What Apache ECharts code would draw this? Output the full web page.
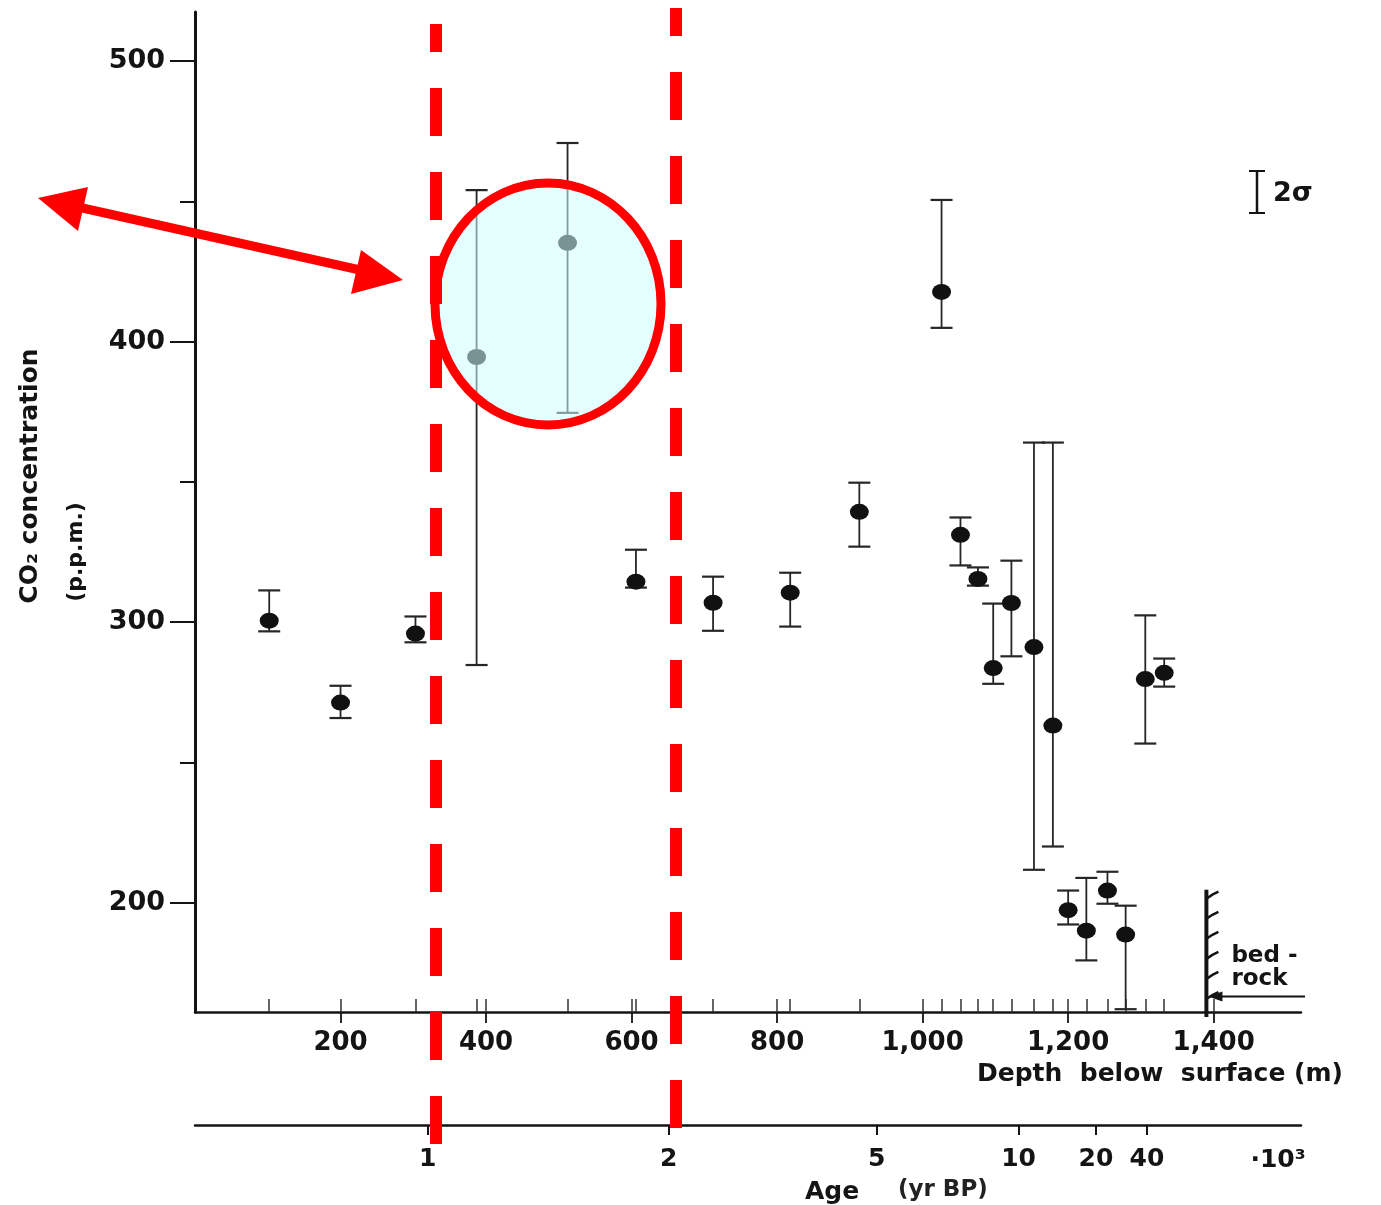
<!DOCTYPE html>
<html><head><meta charset="utf-8">
<script src="https://cdn.jsdelivr.net/npm/echarts@6/dist/echarts.min.js"></script>
<style>html,body{margin:0;padding:0;background:#fff}#c{width:1381px;height:1205px}</style>
</head><body><div id="c"></div>
<script>
// ---- data ----
const depths  = [102, 200, 303, 387, 512, 606, 712, 818, 913, 1026, 1052, 1076, 1097, 1122, 1153, 1179, 1200, 1225, 1254, 1279, 1306, 1332];
const co2     = [300.5, 271.3, 295.9, 394.5, 435.2, 314.4, 306.9, 310.5, 339.3, 417.7, 331.1, 315.4, 283.6, 306.8, 291.1, 263.1, 197.3, 190.0, 204.3, 188.6, 279.7, 281.9];
const co2Low  = [296.7, 265.8, 292.8, 284.7, 374.6, 312.3, 296.9, 298.4, 326.9, 404.9, 320.2, 313.0, 278.0, 287.8, 211.7, 220.0, 192.2, 179.4, 199.6, 162.0, 256.7, 277.0];
const co2High = [311.3, 277.3, 302.0, 454.0, 470.8, 325.8, 316.2, 317.6, 349.7, 450.5, 337.3, 319.5, 306.6, 321.9, 364.0, 364.0, 204.3, 208.8, 211.0, 198.9, 302.4, 287.0];
const depthTicks = [200, 400, 600, 800, 1000, 1200, 1400];
const yMajorTicks = [200, 300, 400, 500];
const yMinorTicks = [250, 350, 450];
const ageTickDepths = [319.7, 651.1, 936.8, 1131.9, 1238.2, 1308.2];
const ageTickLabels = ['1', '2', '5', '10', '20', '40'];
const bedrockDepth = 1390;
const bedrockTop = 204.6;
const bedrockArrowCO2 = 166.5;

const F = "'DejaVu Sans', sans-serif";
const INK = '#141414';
const X_MIN = 0, X_MAX = 1520, Y_MIN = 161, Y_MAX = 517.5;

const chart = echarts.init(document.getElementById('c'), null, {renderer: 'canvas'});

function fmtDepth(v) {
  return v >= 1000 ? Math.floor(v / 1000) + ',' + String(v % 1000).padStart(3, '0') : String(v);
}
function fmtAge(v) {
  let best = 0, bd = Infinity;
  ageTickDepths.forEach((d, i) => { const dd = Math.abs(d - v); if (dd < bd) { bd = dd; best = i; } });
  return ageTickLabels[best];
}

const option = {
  animation: false,
  backgroundColor: '#ffffff',
  grid: [
    {left: 195, top: 12, width: 1106, height: 1000},
    {left: 195, top: 1124, width: 1106, height: 1}
  ],
  xAxis: [
    {gridIndex: 0, type: 'value', min: X_MIN, max: X_MAX, position: 'bottom',
     axisLine: {show: true, lineStyle: {color: INK, width: 2.5}},
     axisTick: {show: true, inside: true, length: 13, customValues: depths.concat(depthTicks), lineStyle: {color: '#333', width: 1.5}},
     axisLabel: {show: false}, splitLine: {show: false}},
    {gridIndex: 0, type: 'value', min: X_MIN, max: X_MAX, position: 'bottom',
     axisLine: {show: false},
     axisTick: {show: true, length: 11, customValues: depthTicks, lineStyle: {color: INK, width: 1.8}},
     axisLabel: {show: true, customValues: depthTicks, formatter: fmtDepth, fontFamily: F, fontWeight: 'bold', fontSize: 26, color: INK, margin: 18},
     splitLine: {show: false}},
    {gridIndex: 1, type: 'value', min: X_MIN, max: X_MAX, position: 'bottom',
     axisLine: {show: true, lineStyle: {color: INK, width: 2.5}},
     axisTick: {show: true, length: 10, customValues: ageTickDepths, lineStyle: {color: INK, width: 2}},
     axisLabel: {show: true, customValues: ageTickDepths, formatter: fmtAge, fontFamily: F, fontWeight: 'bold', fontSize: 25, color: INK, margin: 22},
     splitLine: {show: false}}
  ],
  yAxis: [
    {gridIndex: 0, type: 'value', min: Y_MIN, max: Y_MAX, position: 'left',
     axisLine: {show: true, lineStyle: {color: INK, width: 3}},
     axisTick: {show: true, length: 25, customValues: yMajorTicks, lineStyle: {color: INK, width: 2}},
     axisLabel: {show: true, customValues: yMajorTicks, fontFamily: F, fontWeight: 'bold', fontSize: 27, color: INK, margin: 30},
     splitLine: {show: false}},
    {gridIndex: 0, type: 'value', min: Y_MIN, max: Y_MAX, position: 'left',
     axisLine: {show: false},
     axisTick: {show: true, length: 15, customValues: yMinorTicks, lineStyle: {color: INK, width: 2}},
     axisLabel: {show: false}, splitLine: {show: false}},
    {gridIndex: 1, type: 'value', min: 0, max: 1, show: false}
  ],
  series: [
    {
      type: 'custom', name: 'error', xAxisIndex: 0, yAxisIndex: 0, z: 2,
      data: depths.map((d, i) => [d, co2Low[i], co2High[i]]),
      renderItem: function (params, api) {
        const lo = api.coord([api.value(0), api.value(1)]);
        const hi = api.coord([api.value(0), api.value(2)]);
        const hw = 11;
        return {type: 'group', children: [
          {type: 'line', shape: {x1: lo[0], y1: lo[1], x2: hi[0], y2: hi[1]}, style: {stroke: '#262626', lineWidth: 1.8}},
          {type: 'line', shape: {x1: hi[0] - hw, y1: hi[1], x2: hi[0] + hw, y2: hi[1]}, style: {stroke: '#262626', lineWidth: 2.2}},
          {type: 'line', shape: {x1: lo[0] - hw, y1: lo[1], x2: lo[0] + hw, y2: lo[1]}, style: {stroke: '#262626', lineWidth: 2.2}}
        ]};
      }
    },
    {
      type: 'scatter', name: 'CO2', xAxisIndex: 0, yAxisIndex: 0, z: 3,
      symbol: 'circle', symbolSize: [19, 16],
      itemStyle: {color: '#111111', opacity: 1},
      data: depths.map((d, i) => [d, co2[i]])
    },
    {
      type: 'custom', name: 'bedrock', xAxisIndex: 0, yAxisIndex: 0, z: 2, clip: false,
      data: [[bedrockDepth, bedrockTop, bedrockArrowCO2]],
      renderItem: function (params, api) {
        const top = api.coord([api.value(0), api.value(1)]);
        const bot = api.coord([api.value(0), Y_MIN]);
        const arr = api.coord([api.value(0), api.value(2)]);
        const arrEnd = api.coord([X_MAX, api.value(2)]);
        const ch = [
          {type: 'line', shape: {x1: top[0], y1: top[1], x2: bot[0], y2: bot[1] + 5}, style: {stroke: INK, lineWidth: 4}}
        ];
        const n = 6;
        for (let k = 0; k < n; k++) {
          const y = top[1] + 6 + k * (bot[1] - top[1] - 22) / (n - 1);
          ch.push({type: 'polyline', shape: {points: [[top[0], y + 3], [top[0] + 6, y - 1], [top[0] + 12, y - 4]]}, style: {stroke: INK, lineWidth: 2.5, fill: null}});
        }
        ch.push({type: 'line', shape: {x1: arr[0] + 4, y1: arr[1], x2: arrEnd[0] + 4, y2: arr[1]}, style: {stroke: INK, lineWidth: 2}});
        ch.push({type: 'polygon', shape: {points: [[arr[0] + 2, arr[1]], [arr[0] + 16, arr[1] - 5], [arr[0] + 16, arr[1] + 5]]}, style: {fill: INK}});
        ch.push({type: 'text', x: top[0] + 25, y: top[1] + 66, style: {text: 'bed -', font: "bold 23px 'DejaVu Sans', sans-serif", fill: INK, textAlign: 'left', textVerticalAlign: 'middle'}});
        ch.push({type: 'text', x: top[0] + 25, y: top[1] + 89, style: {text: 'rock', font: "bold 23px 'DejaVu Sans', sans-serif", fill: INK, textAlign: 'left', textVerticalAlign: 'middle'}});
        return {type: 'group', children: ch};
      }
    }
  ],
  graphic: [
    // axis titles
    {type: 'text', x: 30, y: 476, rotation: Math.PI / 2, z: 10,
     style: {text: 'CO₂ concentration', font: "bold 25px 'DejaVu Sans', sans-serif", fill: INK, textAlign: 'center', textVerticalAlign: 'middle'}},
    {type: 'text', x: 76, y: 552, rotation: Math.PI / 2, z: 10,
     style: {text: '(p.p.m.)', font: "bold 22px 'DejaVu Sans', sans-serif", fill: INK, textAlign: 'center', textVerticalAlign: 'middle'}},
    {type: 'text', x: 1160, y: 1074, z: 10,
     style: {text: 'Depth  below  surface (m)', font: "bold 25px 'DejaVu Sans', sans-serif", fill: INK, textAlign: 'center', textVerticalAlign: 'middle'}},
    {type: 'text', x: 805, y: 1192, z: 10,
     style: {text: 'Age', font: "bold 25px 'DejaVu Sans', sans-serif", fill: INK, textAlign: 'left', textVerticalAlign: 'middle'}},
    {type: 'text', x: 898, y: 1190, z: 10,
     style: {text: '(yr BP)', font: "bold 23px 'DejaVu Sans', sans-serif", fill: '#222', textAlign: 'left', textVerticalAlign: 'middle'}},
    {type: 'text', x: 1278, y: 1160, z: 10,
     style: {text: '·10³', font: "bold 25px 'DejaVu Sans', sans-serif", fill: INK, textAlign: 'center', textVerticalAlign: 'middle'}},
    // 2 sigma key
    {type: 'line', z: 10, shape: {x1: 1257, y1: 171, x2: 1257, y2: 213}, style: {stroke: INK, lineWidth: 2.5}},
    {type: 'line', z: 10, shape: {x1: 1249, y1: 171, x2: 1265, y2: 171}, style: {stroke: INK, lineWidth: 2}},
    {type: 'line', z: 10, shape: {x1: 1249, y1: 213, x2: 1265, y2: 213}, style: {stroke: INK, lineWidth: 2}},
    {type: 'text', x: 1273, y: 194, z: 10,
     style: {text: '2σ', font: "bold 27px 'DejaVu Sans', sans-serif", fill: INK, textAlign: 'left', textVerticalAlign: 'middle'}},
    // red annotations
    {type: 'ellipse', z: 100, shape: {cx: 548, cy: 304, rx: 113, ry: 121},
     style: {fill: 'rgba(205,255,255,0.55)', stroke: '#ff0000', lineWidth: 9}},
    {type: 'line', z: 101, shape: {x1: 436, y1: 24, x2: 436, y2: 1144},
     style: {stroke: '#ff0000', lineWidth: 12, lineDash: [48, 36], lineDashOffset: 20}},
    {type: 'line', z: 101, shape: {x1: 676, y1: 8, x2: 676, y2: 1128},
     style: {stroke: '#ff0000', lineWidth: 12, lineDash: [48, 36], lineDashOffset: 20}},
    {type: 'line', z: 101, shape: {x1: 78, y1: 207, x2: 360, y2: 270},
     style: {stroke: '#ff0000', lineWidth: 9}},
    {type: 'polygon', z: 101, shape: {points: [[38, 198], [78, 231], [88, 187]]}, style: {fill: '#ff0000'}},
    {type: 'polygon', z: 101, shape: {points: [[403, 280], [351, 294], [361, 250]]}, style: {fill: '#ff0000'}}
  ]
};
chart.setOption(option);
</script>
</body></html>
